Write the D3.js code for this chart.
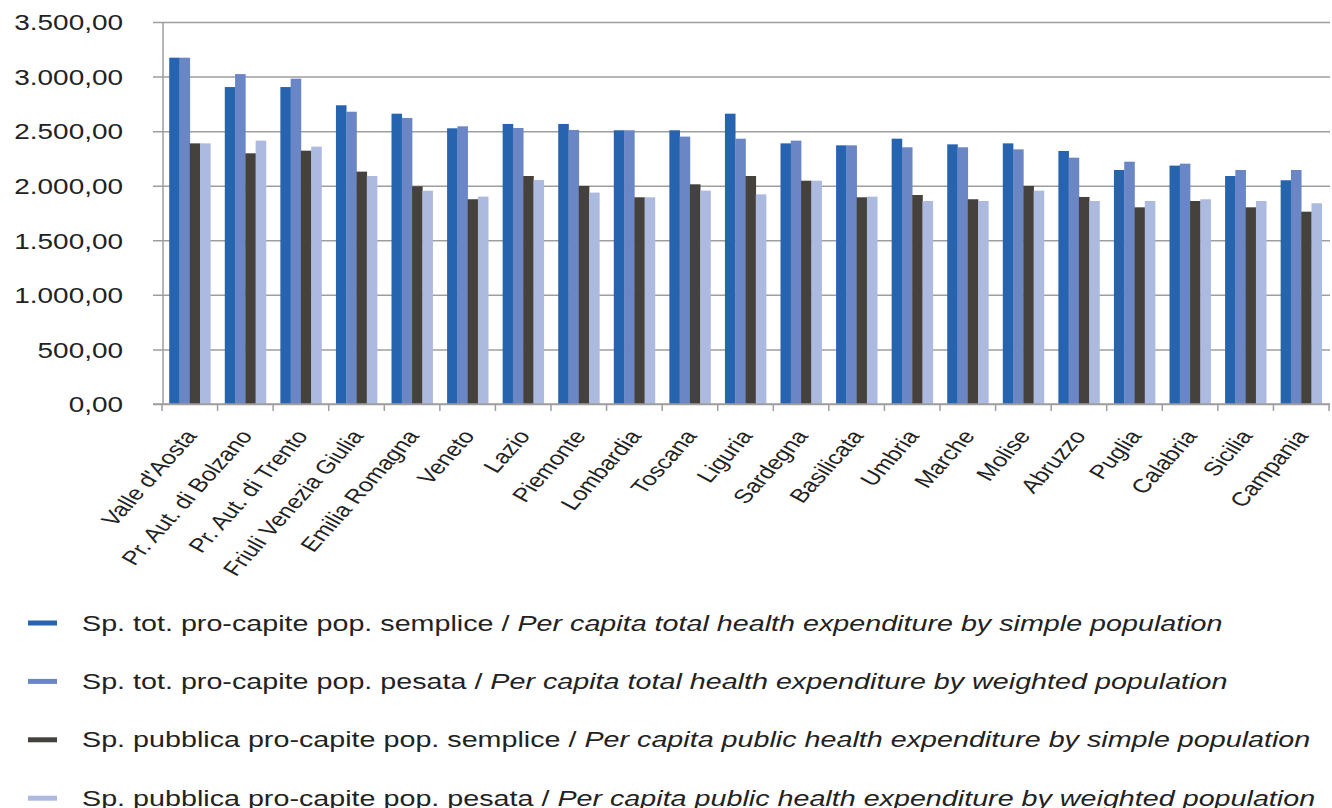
<!DOCTYPE html>
<html>
<head>
<meta charset="utf-8">
<script src="https://cdn.jsdelivr.net/npm/d3@7"></script>
<style>
  body { margin: 0; background: #fff; }
  svg { display: block; font-family: "Liberation Sans", Arial, sans-serif; }
</style>
</head>
<body>
<svg id="chart" width="1332" height="808"></svg>
<script>
const regions = ["Valle d'Aosta", "Pr. Aut. di Bolzano", "Pr. Aut. di Trento", "Friuli Venezia Giulia",
  "Emilia Romagna", "Veneto", "Lazio", "Piemonte", "Lombardia", "Toscana", "Liguria", "Sardegna",
  "Basilicata", "Umbria", "Marche", "Molise", "Abruzzo", "Puglia", "Calabria", "Sicilia", "Campania"];

const totSemplice = [3173, 2904, 2904, 2737, 2660, 2526, 2566, 2566, 2508, 2508, 2660, 2388, 2370, 2431, 2379, 2388, 2318, 2144, 2184, 2089, 2050];
const totPesata = [3173, 3023, 2981, 2678, 2621, 2544, 2529, 2511, 2508, 2450, 2431, 2413, 2370, 2352, 2352, 2333, 2257, 2220, 2202, 2144, 2144];
const pubSemplice = [2388, 2297, 2321, 2129, 1995, 1876, 2089, 1998, 1894, 2013, 2089, 2046, 1894, 1915, 1876, 1998, 1897, 1802, 1860, 1802, 1762];
const pubPesata = [2388, 2413, 2358, 2089, 1954, 1900, 2052, 1937, 1894, 1955, 1921, 2046, 1900, 1860, 1860, 1955, 1860, 1860, 1876, 1860, 1839];

const yTicks = [0, 500, 1000, 1500, 2000, 2500, 3000, 3500];

const seriesNames = [
  ["Sp. tot. pro-capite pop. semplice", "Per capita total health expenditure by simple population"],
  ["Sp. tot. pro-capite pop. pesata", "Per capita total health expenditure by weighted population"],
  ["Sp. pubblica pro-capite pop. semplice", "Per capita public health expenditure by simple population"],
  ["Sp. pubblica pro-capite pop. pesata", "Per capita public health expenditure by weighted population"]
];
const seriesValues = [totSemplice, totPesata, pubSemplice, pubPesata];
const colors = ["#2664af", "#6a86c5", "#45413d", "#adbadf"];

const svg = d3.select("#chart");
const stretch = 1.3; // the picture is wider than the font's natural shape

const plotLeft = 163, plotRight = 1330, plotTop = 22, plotBottom = 404;

const y = d3.scaleLinear().domain([0, 3500]).range([plotBottom, plotTop]);
const x = d3.scaleBand().domain(regions).range([162, 1329]).paddingInner(0.26).paddingOuter(0.13);
const x1 = d3.scaleBand().domain(d3.range(4)).range([0, x.bandwidth()]);

const it = d3.formatLocale({ decimal: ",", thousands: ".", grouping: [3], currency: ["", "€"] });
const fmt = it.format(",.2f");

// gridlines + y labels
const yAxis = svg.append("g")
  .attr("transform", `translate(${plotLeft},0)`)
  .call(d3.axisLeft(y).tickValues(yTicks).tickSize(0).tickPadding(40).tickFormat(fmt));
yAxis.select(".domain").remove();
yAxis.selectAll(".tick line")
  .attr("x1", -10).attr("x2", plotRight - plotLeft)
  .attr("stroke", "#9e9e9e").attr("stroke-width", 1.5);
yAxis.selectAll(".tick text")
  .attr("font-size", 21.5).attr("fill", "#222")
  .attr("dy", "0.36em")
  .attr("transform", `scale(${stretch},1)`)
  .attr("x", -40 / stretch);

// bars
const groups = svg.append("g").selectAll("g")
  .data(regions)
  .join("g")
  .attr("transform", d => `translate(${x(d)},0)`);

groups.selectAll("rect")
  .data((d, i) => seriesValues.map((s, k) => ({ k, v: s[i] })))
  .join("rect")
  .attr("x", d => x1(d.k))
  .attr("width", x1.bandwidth() + 0.3)
  .attr("y", d => y(d.v))
  .attr("height", d => y(0) - y(d.v))
  .attr("fill", d => colors[d.k]);

// y axis line
svg.append("line")
  .attr("x1", plotLeft).attr("x2", plotLeft).attr("y1", plotTop).attr("y2", plotBottom)
  .attr("stroke", "#9e9e9e").attr("stroke-width", 1.5);

// x axis line and boundary ticks
svg.append("line")
  .attr("x1", 153).attr("x2", plotRight).attr("y1", plotBottom).attr("y2", plotBottom)
  .attr("stroke", "#9e9e9e").attr("stroke-width", 1.5);
const step = x.step();
svg.append("g").selectAll("line")
  .data(d3.range(regions.length + 1))
  .join("line")
  .attr("x1", i => x.range()[0] + i * step)
  .attr("x2", i => x.range()[0] + i * step)
  .attr("y1", plotBottom).attr("y2", plotBottom + 7)
  .attr("stroke", "#9e9e9e").attr("stroke-width", 1.5);

// rotated category labels
svg.append("g").selectAll("text")
  .data(regions)
  .join("text")
  .attr("transform", d => `translate(${x(d) + x.bandwidth() / 2 + 8},${plotBottom + 32}) scale(${stretch},1) rotate(-55)`)
  .attr("text-anchor", "end")
  .attr("font-size", 19.5)
  .attr("fill", "#222")
  .text(d => d);

// legend
const legend = svg.append("g").selectAll("g")
  .data(seriesNames)
  .join("g")
  .attr("transform", (d, i) => `translate(0,${630.5 + i * 58.4})`);

legend.append("rect")
  .attr("x", 28).attr("y", -10).attr("width", 29).attr("height", 5)
  .attr("fill", (d, i) => colors[i]);

const lt = legend.append("text")
  .attr("transform", `translate(82,0) scale(1.305,1)`)
  .attr("font-size", 22)
  .attr("fill", "#222");
lt.append("tspan").text(d => d[0] + " / ");
lt.append("tspan").attr("font-style", "italic").text(d => d[1]);
</script>
</body>
</html>
